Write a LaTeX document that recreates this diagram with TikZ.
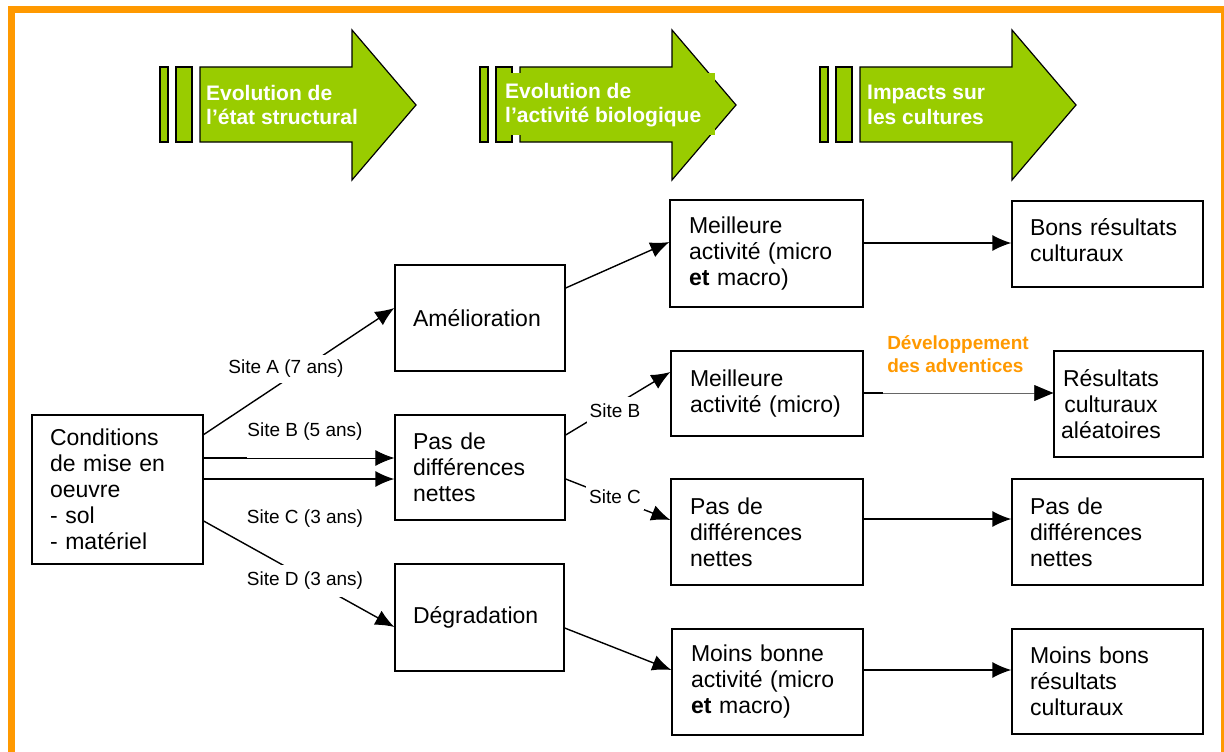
\documentclass[tikz,border=0pt]{standalone}
\usepackage{fontspec}
\setmainfont{Liberation Sans}
\usetikzlibrary{arrows.meta}
\definecolor{frameorange}{HTML}{FF9900}
\definecolor{arrowgreen}{HTML}{99CC00}
\begin{document}
\begin{tikzpicture}[x=1pt,y=-1pt,
  box/.style={draw, line width=1.3pt, fill=white, inner xsep=18pt, inner ysep=0pt,
    align=left, font=\fontsize{23}{26}\selectfont},
  tip/.style={-{Latex[length=19pt,width=16pt]}},
  conn/.style={line width=1.4pt, tip},
  seg/.style={line width=1.4pt},
  sitelbl/.style={fill=white, inner sep=5pt, font=\fontsize{19}{22}\selectfont},
  headtxt/.style={text=white, font=\bfseries\fontsize{21}{24.5}\selectfont, align=left, anchor=west, inner sep=0pt},
  garrow/.style={fill=arrowgreen, draw=black, line width=1.2pt, line join=miter}
]
\useasboundingbox (0,0) rectangle (1224,752);
\fill[white] (0,0) rectangle (1224,752);
% orange frame
\fill[frameorange] (8,6) rectangle (1224,13);
\fill[frameorange] (8,6) rectangle (15,752);
\fill[frameorange] (1221,6) rectangle (1224,752);

% header arrows
\foreach \dx in {0,320,660}{
  \begin{scope}[xshift=\dx pt]
    \draw[garrow] (160,67) rectangle (168,142);
    \draw[garrow] (176,67) rectangle (192,142);
    \draw[garrow] (200,67) -- (352,67) -- (352,30) -- (416,105) -- (352,180) -- (352,142) -- (200,142) -- cycle;
  \end{scope}
}
\fill[arrowgreen] (503,73) rectangle (715,135);
\node[headtxt] (h1) at (206,105) {Evolution de\\l’état structural};
\node[headtxt] (h2) at (505,105) {Evolution de\\l’activité biologique};
\node[headtxt] (h3) at (867,105) {Impacts sur\\les cultures};

% boxes
\node[box, text width=135pt, minimum height=149pt] (cond) at (117.5,489.5)
  {Conditions\\de mise en\\oeuvre\\- sol\\- matériel};
\node[box, text width=134pt, minimum height=106pt] (amel) at (480,318) {Amélioration};
\node[box, text width=134pt, minimum height=105pt] (pasm) at (480,467.5) {Pas de\\différences\\nettes};
\node[box, text width=133pt, minimum height=107pt] (degr) at (479.5,617.5) {Dégradation};

\node[box, inner xsep=19pt, text width=155pt, minimum height=107pt] (meil1) at (766.5,253.5)
  {Meilleure\\activité (micro\\\textbf{et} macro)};
\node[box, inner xsep=19pt, text width=154pt, minimum height=85pt] (meil2) at (767,393.5)
  {Meilleure\\activité (micro)};
\node[box, inner xsep=19pt, text width=154pt, minimum height=106pt] (pasr) at (767,532)
  {Pas de\\différences\\nettes};
\node[box, inner xsep=19pt, text width=153pt, minimum height=106pt] (moins) at (767.5,682)
  {Moins bonne\\activité (micro\\\textbf{et} macro)};

\node[box, text width=155pt, minimum height=86pt] (bons) at (1107.5,244)
  {\raisebox{8pt}{\parbox[b]{155pt}{Bons résultats\\culturaux}}};
\node[box, minimum width=149pt, minimum height=106pt] (resal) at (1128.5,404) {};
\node[align=center, inner sep=0pt, font=\fontsize{23}{26}\selectfont] (resaltxt) at (1111,404)
  {Résultats\\culturaux\\aléatoires};
\node[box, text width=155pt, minimum height=106pt] (pasrr) at (1107.5,532)
  {Pas de\\différences\\nettes};
\node[box, text width=155pt, minimum height=105pt] (moinsr) at (1107.5,681.5)
  {Moins bons\\résultats\\culturaux};

% connectors from cond
\coordinate (sAa) at (203,435);
\coordinate (sAb) at (amel.west |- 0,308);
\draw[conn] (sAa) -- (sAb);
\node[sitelbl] (lA) at (286,369) {Site A (7 ans)};

\coordinate (sBa) at (cond.east |- 0,458);
\coordinate (sBm) at (247,458);
\coordinate (sBb) at (pasm.west |- 0,458);
\draw[seg] (sBa) -- (sBm);
\draw[line width=0.8pt, tip] (sBm) -- (sBb);
\coordinate (sB2a) at (cond.east |- 0,479);
\coordinate (sB2b) at (pasm.west |- 0,479);
\draw[conn] (sB2a) -- (sB2b);
\node[font=\fontsize{19}{22}\selectfont] (lB) at (305,432) {Site B (5 ans)};
\node[font=\fontsize{19}{22}\selectfont] (lC) at (305,519) {Site C (3 ans)};

\coordinate (sDa) at (cond.east |- 0,521);
\coordinate (sDb) at (degr.west |- 0,627);
\draw[conn] (sDa) -- (sDb);
\node[sitelbl, inner xsep=3pt, inner ysep=7pt] (lD) at (305,581) {Site D (3 ans)};

% second level
\coordinate (a1) at (amel.east |- 0,288);
\coordinate (a2) at (meil1.west |- 0,242);
\draw[conn] (a1) -- (a2);

\coordinate (b1) at (pasm.east |- 0,435);
\coordinate (b2) at (meil2.west |- 0,372);
\draw[conn] (b1) -- (b2);
\node[sitelbl, inner xsep=3pt, inner ysep=7pt] (lsB) at (615,411) {Site B};

\coordinate (c1) at (pasm.east |- 0,479);
\coordinate (c2) at (pasr.west |- 0,520);
\draw[conn] (c1) -- (c2);
\node[sitelbl, inner xsep=3pt, inner ysep=6pt] (lsC) at (615,497) {Site C};

\coordinate (d1) at (degr.east |- 0,628);
\coordinate (d2) at (moins.west |- 0,670);
\draw[conn] (d1) -- (d2);

% third level
\draw[conn] (meil1.east |- 0,243) -- (bons.west |- 0,243);
\coordinate (e1) at (meil2.east |- 0,393);
\coordinate (e2) at (883,393);
\draw[seg] (e1) -- (e2);
\draw[line width=0.8pt, black!60, tip] (e2) -- (resal.west |- 0,393);
\fill[black] (resal.west |- 0,393) ++(-19,-8) -- ++(19,8) -- ++(-19,8) -- cycle;
\node[text=frameorange, font=\bfseries\fontsize{19}{23}\selectfont, align=left] (dev) at (958,354)
  {Développement\\des adventices};
\draw[conn] (pasr.east |- 0,519) -- (pasrr.west |- 0,519);
\draw[conn] (moins.east |- 0,670) -- (moinsr.west |- 0,670);
\end{tikzpicture}
\end{document}
